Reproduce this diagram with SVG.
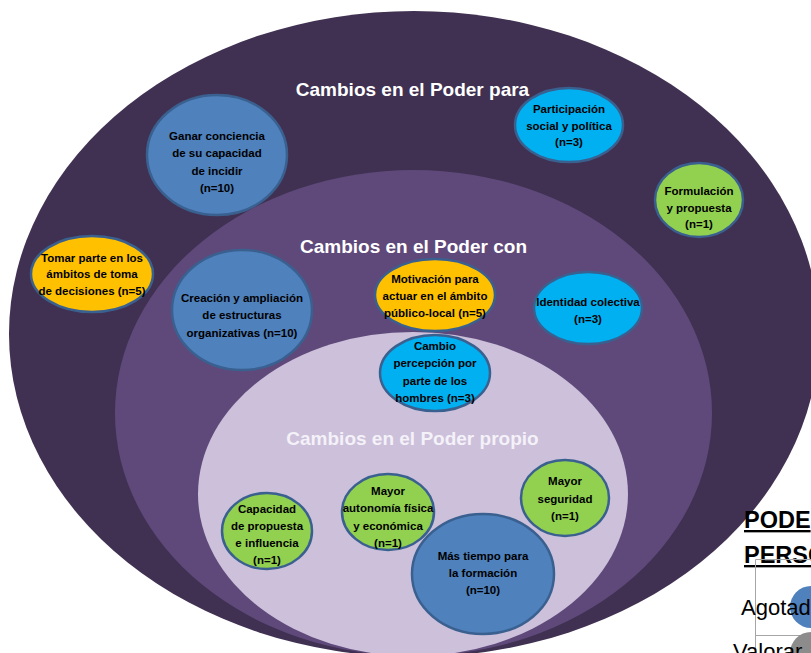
<svg xmlns="http://www.w3.org/2000/svg" width="811" height="653" viewBox="0 0 811 653">
<style>
.title{font-family:"Liberation Sans",Arial,sans-serif;font-weight:bold;font-size:19px;fill:#FFFFFF;text-anchor:middle}
.node ellipse{stroke:#3A6090;stroke-width:2.5}
.lbl{font-family:"Liberation Sans",Arial,sans-serif;font-weight:bold;font-size:11.5px;fill:#000000;text-anchor:middle}
.blue{fill:#4F81BD}
.cyan{fill:#00B0F0}
.gold{fill:#FFC000}
.green{fill:#92D050}
.leg{font-family:"Liberation Sans",Arial,sans-serif;fill:#000000}
</style>
<rect width="811" height="653" fill="#FFFFFF"/>
<g id="rings">
<ellipse id="ring-para" cx="414" cy="334" rx="405" ry="323" fill="#403152"/>
<ellipse id="ring-con" cx="413.5" cy="413" rx="298.5" ry="243" fill="#5F497A"/>
<ellipse id="ring-propio" cx="413" cy="494" rx="215" ry="162" fill="#CCC0DA"/>
<text class="title" x="412.5" y="96">Cambios en el Poder para</text>
<text class="title" x="413.5" y="253">Cambios en el Poder con</text>
<text class="title" x="412.5" y="445" style="fill:#F4F1F8">Cambios en el Poder propio</text>
</g>
<g id="connectors"></g>
<g id="n-ganar" class="node">
<ellipse class="blue" cx="217" cy="155" rx="70" ry="60"/>
<text class="lbl" x="217" y="140">Ganar conciencia</text>
<text class="lbl" x="217" y="157">de su capacidad</text>
<text class="lbl" x="217" y="175">de incidir</text>
<text class="lbl" x="217" y="192">(n=10)</text>
</g>
<g id="n-tomar" class="node">
<ellipse class="gold" cx="92" cy="274" rx="61" ry="38"/>
<text class="lbl" x="92" y="262">Tomar parte en los</text>
<text class="lbl" x="92" y="278">ámbitos de toma</text>
<text class="lbl" x="92" y="295">de decisiones (n=5)</text>
</g>
<g id="n-creacion" class="node">
<ellipse class="blue" cx="242" cy="310" rx="70" ry="60"/>
<text class="lbl" x="242" y="302">Creación y ampliación</text>
<text class="lbl" x="242" y="319">de estructuras</text>
<text class="lbl" x="242" y="337">organizativas (n=10)</text>
</g>
<g id="n-participacion" class="node">
<ellipse class="cyan" cx="569" cy="125" rx="54" ry="37"/>
<text class="lbl" x="569" y="113">Participación</text>
<text class="lbl" x="569" y="130">social y política</text>
<text class="lbl" x="569" y="146">(n=3)</text>
</g>
<g id="n-formulacion" class="node">
<ellipse class="green" cx="699" cy="200" rx="44" ry="37"/>
<text class="lbl" x="699" y="195">Formulación</text>
<text class="lbl" x="699" y="212">y propuesta</text>
<text class="lbl" x="699" y="228">(n=1)</text>
</g>
<g id="n-motivacion" class="node">
<ellipse class="gold" cx="435" cy="295" rx="60" ry="36"/>
<text class="lbl" x="435" y="283">Motivación para</text>
<text class="lbl" x="435" y="300">actuar en el ámbito</text>
<text class="lbl" x="435" y="317">público-local (n=5)</text>
</g>
<g id="n-identidad" class="node">
<ellipse class="cyan" cx="588" cy="308" rx="54" ry="36"/>
<text class="lbl" x="588" y="306">Identidad colectiva</text>
<text class="lbl" x="588" y="323">(n=3)</text>
</g>
<g id="n-cambio" class="node">
<ellipse class="cyan" cx="435" cy="373" rx="55" ry="38"/>
<text class="lbl" x="435" y="350">Cambio</text>
<text class="lbl" x="435" y="367">percepción por</text>
<text class="lbl" x="435" y="385">parte de los</text>
<text class="lbl" x="435" y="402">hombres (n=3)</text>
</g>
<g id="n-capacidad" class="node">
<ellipse class="green" cx="267" cy="531" rx="45" ry="38"/>
<text class="lbl" x="267" y="513">Capacidad</text>
<text class="lbl" x="267" y="530">de propuesta</text>
<text class="lbl" x="267" y="547">e influencia</text>
<text class="lbl" x="267" y="564">(n=1)</text>
</g>
<g id="n-autonomia" class="node">
<ellipse class="green" cx="388" cy="512" rx="46" ry="38"/>
<text class="lbl" x="388" y="495">Mayor</text>
<text class="lbl" x="388" y="512">autonomía física</text>
<text class="lbl" x="388" y="530">y económica</text>
<text class="lbl" x="388" y="547">(n=1)</text>
</g>
<g id="n-tiempo" class="node">
<ellipse class="blue" cx="483" cy="574" rx="71" ry="60"/>
<text class="lbl" x="483" y="560">Más tiempo para</text>
<text class="lbl" x="483" y="577">la formación</text>
<text class="lbl" x="483" y="594">(n=10)</text>
</g>
<g id="n-seguridad" class="node">
<ellipse class="green" cx="565" cy="498" rx="44" ry="38"/>
<text class="lbl" x="565" y="485">Mayor</text>
<text class="lbl" x="565" y="503">seguridad</text>
<text class="lbl" x="565" y="520">(n=1)</text>
</g>
<g id="legend">
<text class="leg" x="744" y="528" font-size="23.5" font-weight="bold" text-decoration="underline">PODE</text>
<text class="leg" x="744" y="563" font-size="23.5" font-weight="bold" text-decoration="underline">PERSO</text>
<path d="M755.5 653 V559.5 H811 M755.5 635.5 H811" fill="none" stroke="#A6A6A6" stroke-width="1"/>
<circle cx="811" cy="607" r="21" fill="#4F81BD"/>
<text class="leg" x="741" y="615" font-size="22">Agotad</text>
<circle cx="811" cy="653" r="21" fill="#8C8C8C"/>
<text class="leg" x="733" y="659" font-size="22">Valorar</text>
</g>
</svg>
